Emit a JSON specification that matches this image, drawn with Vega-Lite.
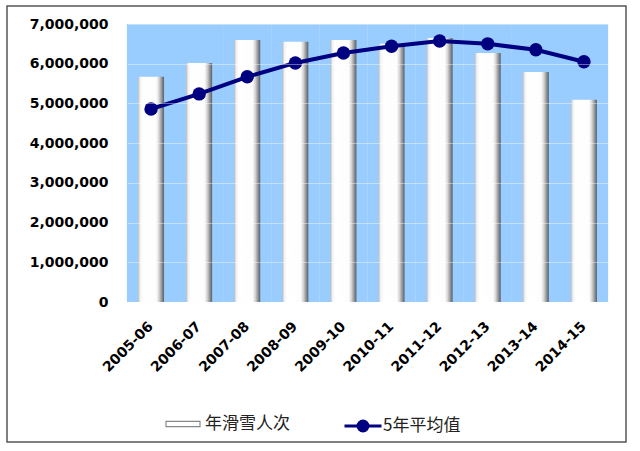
{
  "$schema": "https://vega.github.io/schema/vega-lite/v6.json",
  "width": 619,
  "height": 436,
  "autosize": "none",
  "padding": {"left": 7, "top": 6, "right": 14, "bottom": 9},
  "background": "white",
  "config": {
    "view": {"stroke": "#555555", "strokeWidth": 1.5, "fill": "white"},
    "font": "DejaVu Sans"
  },
  "data": {
    "values": [
      {"season": "2005-06", "visits": 5670000, "avg5": 4860000},
      {"season": "2006-07", "visits": 6020000, "avg5": 5240000},
      {"season": "2007-08", "visits": 6600000, "avg5": 5670000},
      {"season": "2008-09", "visits": 6550000, "avg5": 6020000},
      {"season": "2009-10", "visits": 6600000, "avg5": 6270000},
      {"season": "2010-11", "visits": 6500000, "avg5": 6440000},
      {"season": "2011-12", "visits": 6650000, "avg5": 6570000},
      {"season": "2012-13", "visits": 6270000, "avg5": 6500000},
      {"season": "2013-14", "visits": 5790000, "avg5": 6350000},
      {"season": "2014-15", "visits": 5090000, "avg5": 6050000}
    ]
  },
  "encoding": {
    "x": {
      "field": "season",
      "type": "nominal",
      "sort": null,
      "scale": {"range": [120, 601], "paddingInner": 0.46, "paddingOuter": 0.23},
      "axis": {
        "title": null,
        "orient": "bottom",
        "offset": -140,
        "domain": false,
        "ticks": false,
        "grid": false,
        "labelAngle": -45,
        "labelAlign": "right",
        "labelBaseline": "middle",
        "labelPadding": 22,
        "labelFont": "DejaVu Sans",
        "labelFontWeight": "bold",
        "labelFontSize": 14,
        "labelColor": "black"
      }
    }
  },
  "layer": [
    {
      "mark": {"type": "bar", "width": {"band": 1.86}, "color": "#99CCFF"},
      "encoding": {
        "y": {
          "datum": 7000000,
          "type": "quantitative",
          "title": null,
          "scale": {"domain": [0, 7000000], "range": [296, 18]},
          "axis": {
            "title": null,
            "offset": -105,
            "domain": false,
            "ticks": false,
            "tickSize": 0,
            "labelPadding": 4,
            "values": [0, 1000000, 2000000, 3000000, 4000000, 5000000, 6000000, 7000000],
            "labelExpr": "format(datum.value, ',')",
            "labelFont": "DejaVu Sans",
            "labelFontWeight": "bold",
            "labelFontSize": 14,
            "labelColor": "black",
            "grid": true,
            "gridColor": "white",
            "gridOpacity": 0.4,
            "zindex": 1
          }
        },
        "y2": {"datum": 0}
      }
    },
    {
      "mark": {"type": "bar", "width": {"band": 1}, "opacity": 0},
      "encoding": {
        "y": {"field": "visits", "type": "quantitative", "title": null},
        "fill": {
          "datum": "年滑雪人次",
          "scale": {"range": ["#ffffff"]},
          "legend": {
            "title": null,
            "orient": "none",
            "legendX": 158,
            "legendY": 400,
            "padding": 0,
            "symbolType": "M-1,-0.16H1V0.16H-1Z",
            "symbolSize": 1156,
            "symbolStrokeColor": "#888888",
            "symbolStrokeWidth": 1.2,
            "symbolOpacity": 1,
            "labelOffset": 4,
            "labelFont": "Noto Sans CJK SC",
            "labelFontSize": 17,
            "labelColor": "#222222",
            "encode": {
              "symbols": {
                "update": {
                  "stroke": {"value": "#888888"},
                  "strokeWidth": {"value": 1.2},
                  "opacity": {"value": 1}
                }
              }
            }
          }
        }
      }
    },
    {
      "mark": {
        "type": "bar",
        "width": {"band": 1},
        "color": {
          "gradient": "linear",
          "x1": 0, "y1": 0, "x2": 1, "y2": 0,
          "stops": [
            {"offset": 0, "color": "#bdbdbd"},
            {"offset": 0.08, "color": "#f2f2f2"},
            {"offset": 0.18, "color": "#ffffff"},
            {"offset": 0.7, "color": "#fdfdfd"},
            {"offset": 0.8, "color": "#d9d9d9"},
            {"offset": 0.9, "color": "#9a9a9a"},
            {"offset": 1, "color": "#55606a"}
          ]
        }
      },
      "encoding": {
        "y": {"field": "visits", "type": "quantitative", "title": null}
      }
    },
    {
      "mark": {"type": "line", "strokeWidth": 4},
      "encoding": {
        "y": {"field": "avg5", "type": "quantitative", "title": null},
        "stroke": {
          "datum": "5年平均值",
          "scale": {"range": ["#000080"]},
          "legend": {
            "title": null,
            "orient": "none",
            "legendX": 336,
            "legendY": 400,
            "padding": 0,
            "symbolType": "M-1,0H1M-0.27,0A0.27,0.27,0,1,0,0.27,0A0.27,0.27,0,1,0,-0.27,0",
            "symbolSize": 1369,
            "labelOffset": 0,
            "labelFont": "Noto Sans CJK SC",
            "labelFontSize": 17,
            "labelColor": "#222222",
            "encode": {
              "symbols": {
                "update": {
                  "fill": {"value": "#000080"},
                  "stroke": {"value": "#000080"},
                  "strokeWidth": {"value": 3},
                  "opacity": {"value": 1}
                }
              }
            }
          }
        }
      }
    },
    {
      "mark": {"type": "point", "filled": true, "size": 180, "color": "#000080", "opacity": 1},
      "encoding": {
        "y": {"field": "avg5", "type": "quantitative", "title": null}
      }
    }
  ]
}
